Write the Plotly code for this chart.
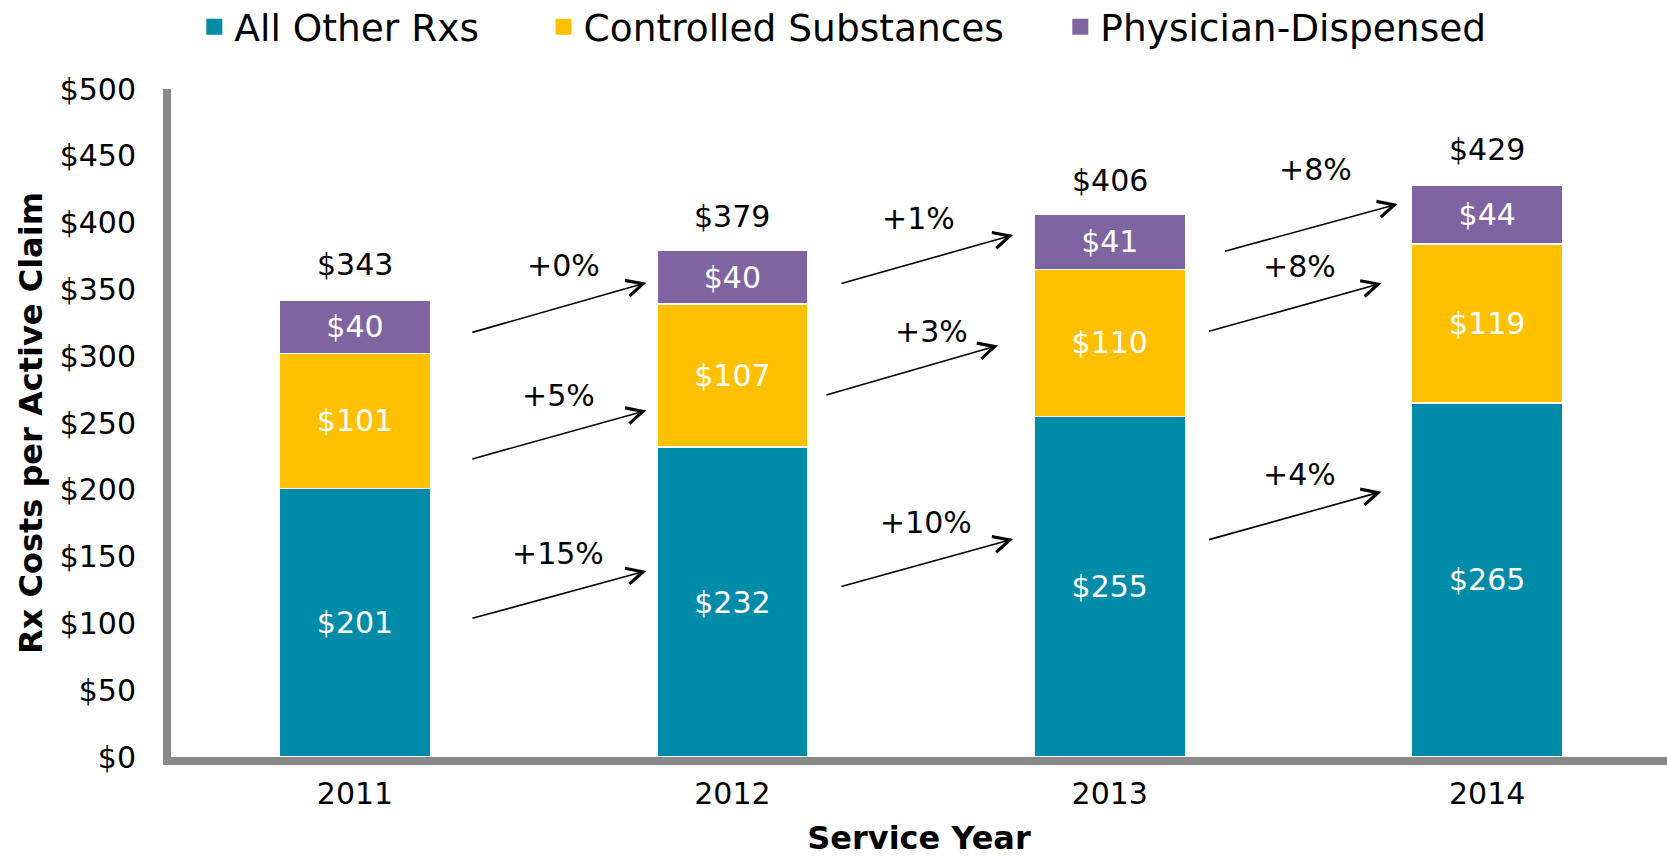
import plotly.graph_objects as go

# ---------------- data ----------------
years = ["2011", "2012", "2013", "2014"]
all_other = [201, 232, 255, 265]
controlled = [101, 107, 110, 119]
physician = [40, 40, 41, 44]
totals = [343, 379, 406, 429]

series_names = ["All Other Rxs", "Controlled Substances", "Physician-Dispensed"]
series_colors = ["#008CA9", "#FFC000", "#8064A2"]

pct_other = ["+15%", "+10%", "+4%"]
pct_controlled = ["+5%", "+3%", "+8%"]
pct_physician = ["+0%", "+1%", "+8%"]

# ---------------- layout helpers (positions of growth arrows) ----------------
# (tail_x, tail_y, head_x, head_y, label_x, label_y) in data units
arrow_layout = [
    # All Other Rxs
    (0.307, 103.5, 0.772, 139.3, 0.538, 152.0),
    (1.285, 127.3, 1.744, 163.1, 1.513, 175.9),
    (2.259, 162.4, 2.720, 198.6, 2.504, 211.8),
    # Controlled
    (0.307, 222.8, 0.772, 259.4, 0.538, 270.6),
    (1.245, 270.6, 1.704, 308.0, 1.527, 318.3),
    (2.259, 318.3, 2.720, 354.6, 2.504, 367.0),
    # Physician
    (0.307, 317.5, 0.772, 354.9, 0.552, 367.7),
    (1.285, 354.1, 1.744, 390.7, 1.493, 402.7),
    (2.301, 378.2, 2.763, 413.9, 2.546, 439.4),
]
pct_labels = pct_other + pct_controlled + pct_physician

FONT = "DejaVu Sans"
x_idx = list(range(len(years)))

fig = go.Figure()

for name, vals, col in zip(series_names, [all_other, controlled, physician], series_colors):
    fig.add_trace(go.Bar(
        x=x_idx, y=vals, name=name, showlegend=False,
        marker=dict(color=col, line=dict(color="white", width=1.5)),
        text=[f"${v}" for v in vals], textposition="inside",
        insidetextanchor="middle", textangle=0, constraintext="none",
        textfont=dict(family=FONT, size=30, color="white"),
        hoverinfo="skip",
    ))

# legend entries (square swatches); trailing no-break spaces set the item spacing
pads = ["\u00a0" * 5, "\u00a0" * 4 + "\u200a", ""]
for name, col, pad in zip(series_names, series_colors, pads):
    fig.add_trace(go.Scatter(
        x=[None], y=[None], mode="markers", name=name + pad,
        marker=dict(symbol="square", size=19, color=col),
    ))

annotations = []
# totals on top of bars
for i, t in enumerate(totals):
    annotations.append(dict(
        x=i, y=t, xref="x", yref="y", text=f"${t}", showarrow=False,
        yanchor="middle", yshift=34,
        font=dict(family=FONT, size=30, color="black"),
    ))
# growth arrows and labels
for (tx, ty, hx, hy, lx, ly), lab in zip(arrow_layout, pct_labels):
    annotations.append(dict(
        x=hx, y=hy, ax=tx, ay=ty, xref="x", yref="y", axref="x", ayref="y",
        text="", showarrow=True, arrowhead=5, arrowsize=2, arrowwidth=1.6,
        arrowcolor="black", standoff=0, startstandoff=0,
    ))
    annotations.append(dict(
        x=lx, y=ly, xref="x", yref="y", text=lab, showarrow=False,
        font=dict(family=FONT, size=30, color="black"),
    ))

fig.update_layout(
    width=1667, height=857,
    margin=dict(l=171, r=0, t=89, b=100, autoexpand=False),
    plot_bgcolor="white", paper_bgcolor="white",
    barmode="stack", bargap=0.6,
    font=dict(family=FONT, color="black"),
    annotations=annotations,
    legend=dict(
        orientation="h", traceorder="normal",
        x=0.0156, xanchor="left", y=1.093, yanchor="middle",
        font=dict(family=FONT, size=37.5, color="black"),
        bgcolor="rgba(0,0,0,0)",
    ),
    xaxis=dict(
        range=[-0.4875, 3.4765], tickvals=x_idx, ticktext=years,
        showline=True, linewidth=8, linecolor="#898989",
        showgrid=False, zeroline=False, ticks="",
        tickfont=dict(family=FONT, size=30, color="black"),
        ticklabelstandoff=3,
        title=dict(text="<b>Service Year</b>", font=dict(family=FONT, size=32, color="black"), standoff=24),
    ),
    yaxis=dict(
        range=[0, 500], dtick=50, tickprefix="$",
        showline=True, linewidth=8, linecolor="#898989",
        showgrid=False, zeroline=False, ticks="",
        tickfont=dict(family=FONT, size=30, color="black"),
        ticklabelstandoff=21,
        title=dict(text="<b>Rx Costs per Active Claim</b>", font=dict(family=FONT, size=32, color="black"), standoff=10),
    ),
)

# remove the default 8px page margin so the figure fills the window exactly
fig.write_html(
    "out.html",
    config={"displayModeBar": False},
    post_script="document.body.style.margin='0';",
)
